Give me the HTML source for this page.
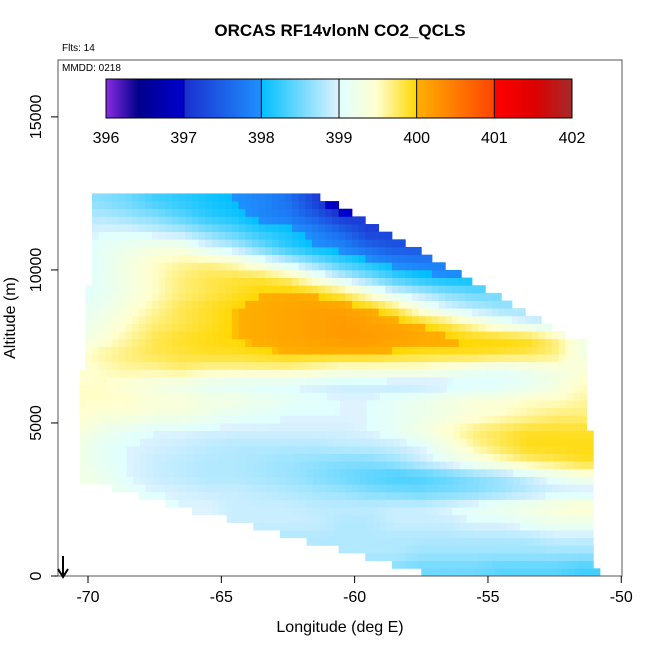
<!DOCTYPE html>
<html><head><meta charset="utf-8"><style>
body{margin:0;background:#fff;}
text{font-family:"Liberation Sans",sans-serif;}
</style></head><body>
<svg id="chart" width="650" height="650" xmlns="http://www.w3.org/2000/svg">
<defs>
<linearGradient id="cbar" x1="0" x2="1" y1="0" y2="0">
<stop offset="0" stop-color="#8a2be2"/><stop offset="0.07" stop-color="#00008b"/><stop offset="0.1667" stop-color="#0000cd"/>
<stop offset="0.17" stop-color="#1a30d0"/><stop offset="0.333" stop-color="#1e90ff"/><stop offset="0.3335" stop-color="#00bfff"/>
<stop offset="0.5" stop-color="#dff3ff"/><stop offset="0.5005" stop-color="#e0ffff"/><stop offset="0.58" stop-color="#ffffd0"/>
<stop offset="0.6667" stop-color="#ffd700"/><stop offset="0.667" stop-color="#ffb000"/><stop offset="0.833" stop-color="#ff4500"/>
<stop offset="0.8335" stop-color="#ff0000"/><stop offset="0.92" stop-color="#dd0000"/><stop offset="1" stop-color="#a52a2a"/>
</linearGradient>
</defs>
<text x="340" y="36" text-anchor="middle" font-size="17" font-weight="bold">ORCAS RF14vlonN CO2_QCLS</text>
<text x="62" y="51" font-size="10">Flts: 14</text>
<g id="heat"></g>
<rect x="58" y="60" width="564" height="516" fill="none" stroke="#555" stroke-width="1"/>
<text x="62" y="71" font-size="10">MMDD: 0218</text>
<rect x="106" y="79" width="466" height="39" fill="url(#cbar)" stroke="#000"/>
<g id="cb"></g>
<g id="axes"></g>
<text x="340" y="632" text-anchor="middle" font-size="16">Longitude (deg E)</text>
<text transform="translate(15,318) rotate(-90)" text-anchor="middle" font-size="16">Altitude (m)</text>
<g stroke="#000" stroke-width="2" fill="none">
<line x1="63" y1="556" x2="63" y2="577"/><polyline points="58,569 63,577 68,569"/></g>
</svg>
<script>
const cbTicks=[396,397,398,399,400,401,402];
const xTicks=[-70,-65,-60,-55,-50];
const yTicks=[0,5000,10000,15000];
const colLons=[-70.5,-69.5,-68.5,-67.5,-66.5,-65.5,-64.5,-63.5,-62.5,-61.5,-60.5,-59.5,-58.5,-57.5,-56.5,-55.5,-54.5,-53.5,-52.5,-51.5];
const rowAlts=[250,750,1250,1750,2250,2750,3250,3750,4250,4750,5250,5750,6250,6750,7250,7750,8250,8750,9250,9750,10250,10750,11250,11750,12250];
const grid=[
[398.6,398.6,398.6,398.6,398.6,398.6,398.6,398.6,398.6,398.6,398.6,398.6,398.6,398.5,398.5,398.5,398.4,398.4,398.4,398.3],
[398.8,398.8,398.8,398.8,398.8,398.8,398.8,398.8,398.8,398.8,398.8,398.8,398.8,398.7,398.7,398.7,398.7,398.7,398.7,398.7],
[398.9,398.9,398.9,398.9,398.9,398.9,398.9,398.8,398.8,398.8,398.8,398.8,398.8,398.8,398.8,398.8,398.8,398.8,398.9,398.9],
[399.0,399.0,399.0,399.0,399.0,399.0,398.9,398.9,398.9,398.9,398.8,398.8,398.9,398.9,398.9,399.0,399.0,399.1,399.2,399.2],
[399.1,399.1,399.1,399.1,399.0,399.0,398.9,398.9,398.9,398.85,398.85,398.85,398.9,398.9,399.0,399.1,399.2,399.3,399.4,399.5],
[399.2,399.2,399.1,399.0,398.95,398.9,398.9,398.85,398.8,398.75,398.7,398.6,398.55,398.5,398.55,398.6,398.7,398.8,398.9,398.9],
[399.3,399.2,399.0,398.9,398.85,398.8,398.8,398.75,398.7,398.6,398.5,398.4,398.3,398.35,398.45,398.6,398.7,398.9,399.1,399.3],
[399.3,399.1,399.0,398.9,398.85,398.8,398.8,398.75,398.7,398.65,398.6,398.6,398.7,398.9,399.1,399.3,399.5,399.7,399.8,399.9],
[399.3,399.1,399.0,398.95,398.9,398.85,398.8,398.8,398.8,398.8,398.85,398.85,398.9,399.0,399.3,399.6,399.8,399.95,399.95,399.95],
[399.4,399.2,399.1,399.0,399.0,398.95,398.95,398.95,398.95,398.95,398.95,399.0,399.1,399.3,399.5,399.7,399.8,399.9,399.9,399.9],
[399.5,399.4,399.4,399.3,399.3,399.2,399.1,399.05,399.0,399.0,399.0,399.0,399.1,399.2,399.3,399.4,399.5,399.6,399.7,399.7],
[399.5,399.5,399.5,399.4,399.4,399.3,399.3,399.2,399.1,399.05,399.0,399.0,399.1,399.2,399.3,399.4,399.4,399.5,399.5,399.6],
[399.5,399.5,399.4,399.3,399.2,399.1,399.05,399.0,399.0,398.95,398.9,398.9,398.85,398.85,398.9,398.95,399.0,399.1,399.3,399.5],
[399.4,399.5,399.6,399.6,399.7,399.6,399.6,399.6,399.6,399.5,399.4,399.4,399.4,399.4,399.3,399.2,399.1,399.2,399.3,399.4],
[399.4,399.6,399.7,399.8,399.85,399.9,399.9,399.95,400.0,400.0,400.0,400.0,399.95,399.9,399.9,399.9,399.85,399.8,399.7,399.3],
[399.2,399.4,399.6,399.8,399.9,399.95,400.0,400.05,400.1,400.15,400.2,400.2,400.15,400.1,400.05,400.0,400.0,399.95,399.7,399.3],
[399.1,399.3,399.5,399.7,399.8,399.9,400.0,400.05,400.1,400.15,400.2,400.15,400.1,400.0,399.8,399.5,399.2,399.0,398.9,398.9],
[399.0,399.2,399.4,399.6,399.8,399.9,400.0,400.05,400.1,400.15,400.15,400.05,399.8,399.3,399.0,398.8,398.7,398.7,398.7,398.7],
[399.0,399.1,399.3,399.5,399.7,399.8,399.9,400.0,400.05,400.0,399.8,399.4,399.0,398.8,398.6,398.5,398.5,398.5,398.5,398.5],
[398.9,399.1,399.3,399.5,399.7,399.8,399.85,399.85,399.7,399.3,398.9,398.6,398.3,398.1,398.0,398.0,398.0,398.0,398.0,398.0],
[398.9,399.1,399.3,399.5,399.6,399.65,399.5,399.2,398.9,398.6,398.3,398.1,397.9,397.8,397.8,397.8,397.8,397.8,397.8,397.8],
[398.9,399.1,399.2,399.3,399.3,399.0,398.8,398.5,398.2,398.0,397.9,397.6,397.4,397.4,397.4,397.4,397.4,397.4,397.4,397.4],
[398.9,399.0,399.0,398.9,398.8,398.6,398.4,398.2,398.1,397.9,397.6,397.2,397.2,397.2,397.2,397.2,397.2,397.2,397.2,397.2],
[398.8,398.8,398.7,398.6,398.4,398.2,398.1,397.9,397.8,397.5,397.1,397.1,397.1,397.1,397.1,397.1,397.1,397.1,397.1,397.1],
[398.7,398.6,398.5,398.3,398.2,398.1,398.0,397.9,397.7,397.2,396.6,396.6,396.6,396.6,396.6,396.6,396.6,396.6,396.6,396.6]];
const rowLeft=[-57.5,-58.6,-59.6,-60.6,-61.8,-62.8,-63.8,-64.8,-66.1,-67.1,-68.1,-69.1,
-70.3,-70.3,-70.3,-70.3,-70.3,-70.3,-70.3,-70.3,-70.3,-70.3,-70.3,-70.3,-70.3,-70.3,-70.3,
-70.1,-70.1,-70.1,-70.1,-70.1,-70.1,-70.1,-70.1,-70.1,-70.1,-70.1,
-69.85,-69.85,-69.85,-69.85,-69.85,-69.85,-69.85,-69.85,-69.85,-69.85,-69.85,-69.85];
const rowRight=[-50.8,-51.05,-51.05,-51.05,-51.05,-51.05,-51.05,-51.05,-51.05,-51.05,-51.05,-51.05,-51.05,-51.05,-51.05,-51.05,-51.05,-51.05,-51.05,
-51.3,-51.3,-51.3,-51.3,-51.3,-51.3,-51.3,-51.3,-51.3,-51.3,-51.3,-51.3,
-52.1,-52.6,-53.0,-53.6,-54.1,-54.5,-55.1,-55.6,-56.0,-56.6,-57.1,-57.5,-58.1,-58.6,-59.1,-59.6,-60.1,-60.6,-61.3];
const NS="http://www.w3.org/2000/svg";
const X=l=>88+(l+70)*26.664, Y=a=>576-a*0.030607;
const CB=v=>106+(v-396)*466/6;
const stops=[[396,[138,43,226]],[396.42,[0,0,139]],[397,[0,0,205]],[397.02,[26,48,208]],[398,[30,144,255]],[398.003,[0,191,255]],[399,[223,243,255]],[399.003,[224,255,255]],[399.48,[255,255,208]],[400,[255,215,0]],[400.002,[255,176,0]],[401,[255,69,0]],[401.003,[255,0,0]],[401.5,[221,0,0]],[402,[165,42,42]]];
function col(v){v=Math.max(396,Math.min(402,v));for(let i=1;i<stops.length;i++){if(v<=stops[i][0]){const a=stops[i-1],b=stops[i],t=(v-a[0])/(b[0]-a[0]||1);return 'rgb('+a[1].map((c,k)=>Math.round(c+(b[1][k]-c)*t)).join(',')+')';}}return 'rgb(165,42,42)';}
function val(lon,alt){let fi=(lon-colLons[0]);fi=Math.max(0,Math.min(colLons.length-1,fi));let fj=(alt-rowAlts[0])/500;fj=Math.max(0,Math.min(rowAlts.length-1,fj));
const i0=Math.floor(fi),j0=Math.floor(fj),i1=Math.min(i0+1,colLons.length-1),j1=Math.min(j0+1,rowAlts.length-1),ti=fi-i0,tj=fj-j0;
return (grid[j0][i0]*(1-ti)+grid[j0][i1]*ti)*(1-tj)+(grid[j1][i0]*(1-ti)+grid[j1][i1]*ti)*tj;}
const heat=document.getElementById('heat');
for(let r=0;r<rowLeft.length;r++){const a0=r*250,a1=a0+250;const y0=Y(a1),y1=Y(a0);
 for(let l=rowLeft[r];l<rowRight[r]-1e-6;l+=0.25){const l1=Math.min(l+0.25,rowRight[r]);
  const rc=document.createElementNS(NS,'rect');
  
  
  rc.setAttribute('x',X(l).toFixed(2));rc.setAttribute('y',y0.toFixed(2));
  rc.setAttribute('width',(X(l1)-X(l)+0.4).toFixed(2));rc.setAttribute('height',(y1-y0+0.4).toFixed(2));
  rc.setAttribute('fill',col(val((l+l1)/2,a0+125)));heat.appendChild(rc);}}
const cb=document.getElementById('cb'),ax=document.getElementById('axes');
function add(p,tag,at,txt){const e=document.createElementNS(NS,tag);for(const k in at)e.setAttribute(k,at[k]);if(txt!==undefined)e.textContent=txt;p.appendChild(e);return e;}
cbTicks.forEach(v=>{const x=CB(v);
 const ln=add(cb,'line',{x1:x,x2:x,y1:79,y2:118,stroke:'#000'});
 
 
 const t=add(cb,'text',{x:x,y:143,'text-anchor':'middle','font-size':16},String(v));
 
 });
xTicks.forEach(v=>{const x=X(v);
 const ln=add(ax,'line',{x1:x,x2:x,y1:576,y2:583,stroke:'#000'});
 
 
 const t=add(ax,'text',{x:x,y:602,'text-anchor':'middle','font-size':16},String(v));
 
 });
yTicks.forEach(v=>{const y=Y(v);
 const ln=add(ax,'line',{x1:51,x2:58,y1:y,y2:y,stroke:'#000'});
 
 
 const t=add(ax,'text',{x:0,y:0,'text-anchor':'middle','font-size':16,transform:'translate(41,'+y+') rotate(-90)'},String(v));
 
 });
</script>
</body></html>
